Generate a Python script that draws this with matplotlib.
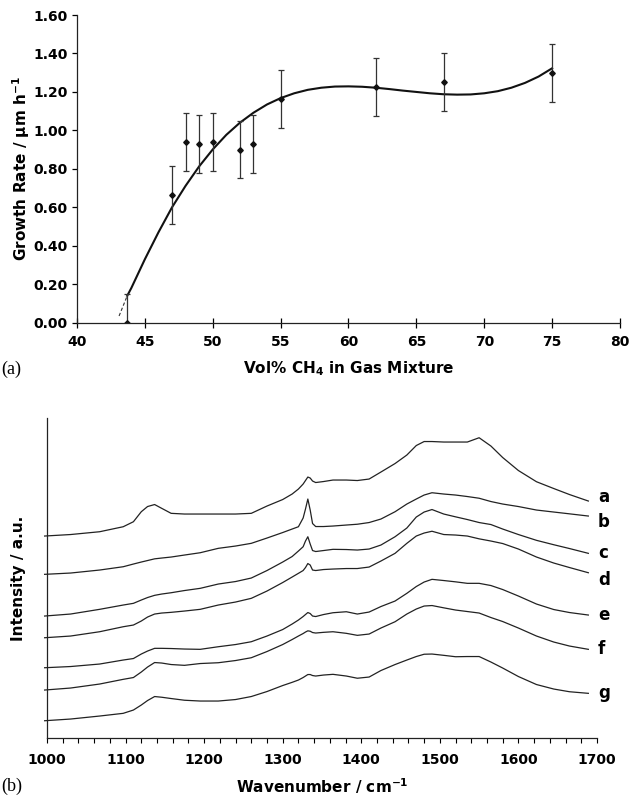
import matplotlib
matplotlib.use('Agg')
import matplotlib.pyplot as plt
from matplotlib.ticker import MultipleLocator, FormatStrFormatter

plt.rcParams['font.family'] = ['DejaVu Sans']
plt.rcParams['mathtext.default'] = 'bf'

# (a) growth rate vs CH4 fraction
vol_ch4 = [43.7, 47, 48, 49, 50, 52, 53, 55, 62, 67, 75]
growth = [0.00, 0.665, 0.938, 0.928, 0.938, 0.90, 0.928, 1.163, 1.226, 1.25, 1.30]
growth_err = [0.15] * len(vol_ch4)

# trend line
fit_x = [43.7, 44, 45, 46, 47, 48, 49, 50, 51, 52, 53, 54, 55, 56, 57, 58, 59, 60,
         61, 62, 63, 64, 65, 66, 67, 68, 69, 70, 71, 72, 73, 74, 75]
fit_y = [0.14, 0.18, 0.33, 0.47, 0.60, 0.712, 0.813, 0.901, 0.977, 1.040, 1.092,
         1.135, 1.168, 1.193, 1.211, 1.222, 1.228, 1.229, 1.227, 1.222, 1.215,
         1.207, 1.200, 1.193, 1.188, 1.186, 1.187, 1.193, 1.204, 1.222, 1.247,
         1.280, 1.323]
dash_x = [43.1, 43.7]
dash_y = [0.035, 0.14]

# (b) Raman spectra, offset intensities (a.u.)
wavenumber = [997, 1030, 1067, 1097, 1110, 1120, 1128, 1137, 1146, 1158,
              1175, 1195, 1218, 1240, 1260, 1280, 1300, 1312, 1320, 1326,
              1329, 1332, 1335, 1338, 1342, 1352, 1364, 1381, 1395, 1410,
              1425, 1443, 1458, 1470, 1480, 1490, 1505, 1520, 1535, 1550,
              1565, 1580, 1600, 1623, 1645, 1665, 1689]
spec_a = [202, 203.5, 206.3, 211.3, 216.3, 226.3, 231.5, 233.5, 229.7, 224.7,
          224, 224, 224, 224, 224.7, 232, 238.5, 244, 249, 254,
          257.5, 261, 260, 257, 255.5, 256.5, 258, 258, 257.5, 259,
          266, 274.5, 283, 292.5, 296.5, 296.5, 296, 296, 296, 300.3,
          292, 280.5, 267.5, 256.3, 249.5, 243.5, 237]
spec_b = [163.7, 165, 168, 171.3, 174, 176, 177.5, 179.2, 180, 181,
          183, 185.3, 189.7, 192, 194.7, 200, 205.5, 209, 211.3, 220,
          229, 239, 228, 214.5, 211.5, 211.5, 212, 213, 213.8, 215.5,
          219, 226.3, 234, 239, 243, 245.3, 244, 243, 241.5, 239.8,
          236.5, 234, 231.5, 228, 226, 224.2, 222]
spec_c = [122, 124, 128.7, 133, 134.7, 138, 140.5, 142.7, 144, 145.3,
          147.5, 149.7, 154, 156.5, 160, 167.5, 176, 181.5, 187, 191.3,
          197, 201.3, 194, 187.5, 186.5, 187.5, 188.7, 188.5, 188, 189,
          193, 201.3, 210, 221, 226, 228.5, 224, 221.2, 218.5, 215.5,
          213.5, 209, 203.5, 197.7, 193.3, 189.5, 184.7]
spec_d = [100.3, 102, 106.3, 111.3, 113, 117, 121, 124, 125, 125.7,
          127, 128.7, 133, 136, 139.7, 147, 155.5, 161, 164.7, 167.5,
          170.5, 174.5, 173, 168, 167.5, 168.5, 169, 169.5, 169.5, 171,
          177, 184.7, 194.7, 202, 205, 206.8, 203.5, 203, 202, 199.2,
          197, 194.5, 189, 181, 175, 170.5, 165.3]
spec_e = [70.3, 71.5, 74, 78, 79.5, 84, 87, 89.7, 89.7, 89.5,
          89, 88.7, 91.3, 93.5, 96.3, 102, 108.5, 114, 118, 121.5,
          123.5, 125.5, 124.5, 122, 121.5, 123.5, 125.3, 126.3, 124, 126,
          131.5, 137, 144.7, 151.5, 156, 158.7, 157.5, 156.2, 154.7, 154.7,
          152.5, 148.5, 142, 134, 128.5, 125.5, 123]
spec_f = [48, 50, 54, 58.7, 60.5, 66, 71, 75.5, 75, 73.5,
          72.7, 74.5, 75.3, 77.5, 80.3, 86.5, 93.5, 98.5, 102, 104.5,
          106, 107.2, 106.8, 105.5, 105, 105.7, 106.3, 104.7, 102.7, 104,
          110, 116.3, 124, 129, 132, 132.5, 130.2, 128, 126.5, 125,
          120.5, 116.5, 110, 102, 96, 92, 88.7]
spec_g = [17.3, 19, 22, 24.7, 28, 33, 37.5, 41.5, 40.8, 39.5,
          37.8, 37, 37, 38.5, 41.5, 46.5, 52.5, 55.7, 58, 60.5,
          62, 63.5, 63.5, 62.5, 62, 63, 63.7, 62, 59.8, 61,
          67.5, 73.5, 78, 81.5, 83.8, 84, 82.7, 81.3, 81.5, 81.5,
          76, 70, 61.5, 53.5, 49, 46.3, 44.7]
spec_names = ['a', 'b', 'c', 'd', 'e', 'f', 'g']
spectra = [spec_a, spec_b, spec_c, spec_d, spec_e, spec_f, spec_g]
label_dy = [3, -4, 0, -5, 0, 0, 0]  # points, nudges the end labels

fig = plt.figure(figsize=(6.29, 7.99), dpi=100)

# ---- panel (a)
ax1 = fig.add_axes([0.1224, 0.5961, 0.8633, 0.3851])
ax1.plot(fit_x, fit_y, color='#111111', lw=1.5)
ax1.plot(dash_x, dash_y, color='#333333', lw=0.8, ls=(0, (3, 2)))
ax1.errorbar(vol_ch4, growth, yerr=growth_err, fmt='D', color='#111111',
             ecolor='#333333', elinewidth=0.9, capsize=2, capthick=0.9,
             markersize=2.8, clip_on=True)
ax1.set_xlim(40, 80)
ax1.set_ylim(0, 1.6)
ax1.xaxis.set_major_locator(MultipleLocator(5))
ax1.yaxis.set_major_locator(MultipleLocator(0.2))
ax1.yaxis.set_major_formatter(FormatStrFormatter('%.2f'))
ax1.spines['top'].set_visible(False)
ax1.spines['right'].set_visible(False)
for s in ('left', 'bottom'):
    ax1.spines[s].set_linewidth(0.9)
    ax1.spines[s].set_color('#222222')
ax1.tick_params(axis='x', direction='inout', length=7, width=0.9, pad=5)
ax1.tick_params(axis='y', direction='out', length=3.5, width=0.9, pad=3)
for lab in ax1.get_xticklabels() + ax1.get_yticklabels():
    lab.set_fontweight('bold')
    lab.set_fontsize(10)
ax1.set_xlabel('Vol% CH$_4$ in Gas Mixture', fontsize=11, fontweight='bold', labelpad=8)
ax1.set_ylabel('Growth Rate / µm h$^{-1}$', fontsize=11, fontweight='bold', labelpad=1)
fig.text(0.002, 1 - 369 / 799, '(a)', family='Liberation Serif', fontsize=13, va='center')

# ---- panel (b)
ax2 = fig.add_axes([0.0747, 0.0763, 0.8744, 0.4005])
for name, spec, dy in zip(spec_names, spectra, label_dy):
    ax2.plot(wavenumber, spec, color='#222222', lw=0.9, clip_on=False)
    ax2.annotate(name, (wavenumber[-1], spec[-1]), xytext=(7, dy),
                 textcoords='offset points', ha='left', va='center',
                 fontsize=12, fontweight='bold')
ax2.set_xlim(1000, 1700)
ax2.set_ylim(0, 320)
ax2.xaxis.set_major_locator(MultipleLocator(100))
ax2.xaxis.set_minor_locator(MultipleLocator(20))
ax2.set_yticks([])
ax2.spines['top'].set_visible(False)
ax2.spines['right'].set_visible(False)
for s in ('left', 'bottom'):
    ax2.spines[s].set_linewidth(0.9)
    ax2.spines[s].set_color('#222222')
ax2.tick_params(axis='x', which='both', direction='out', length=3.5, width=0.8, pad=7)
for lab in ax2.get_xticklabels():
    lab.set_fontweight('bold')
    lab.set_fontsize(10)
ax2.set_xlabel('Wavenumber / cm$^{-1}$', fontsize=11, fontweight='bold', labelpad=7)
ax2.set_ylabel('Intensity / a.u.', fontsize=11, fontweight='bold', labelpad=15)
fig.text(0.002, 1 - 786 / 799, '(b)', family='Liberation Serif', fontsize=13, va='center')

fig.savefig('out.png', dpi=100)
